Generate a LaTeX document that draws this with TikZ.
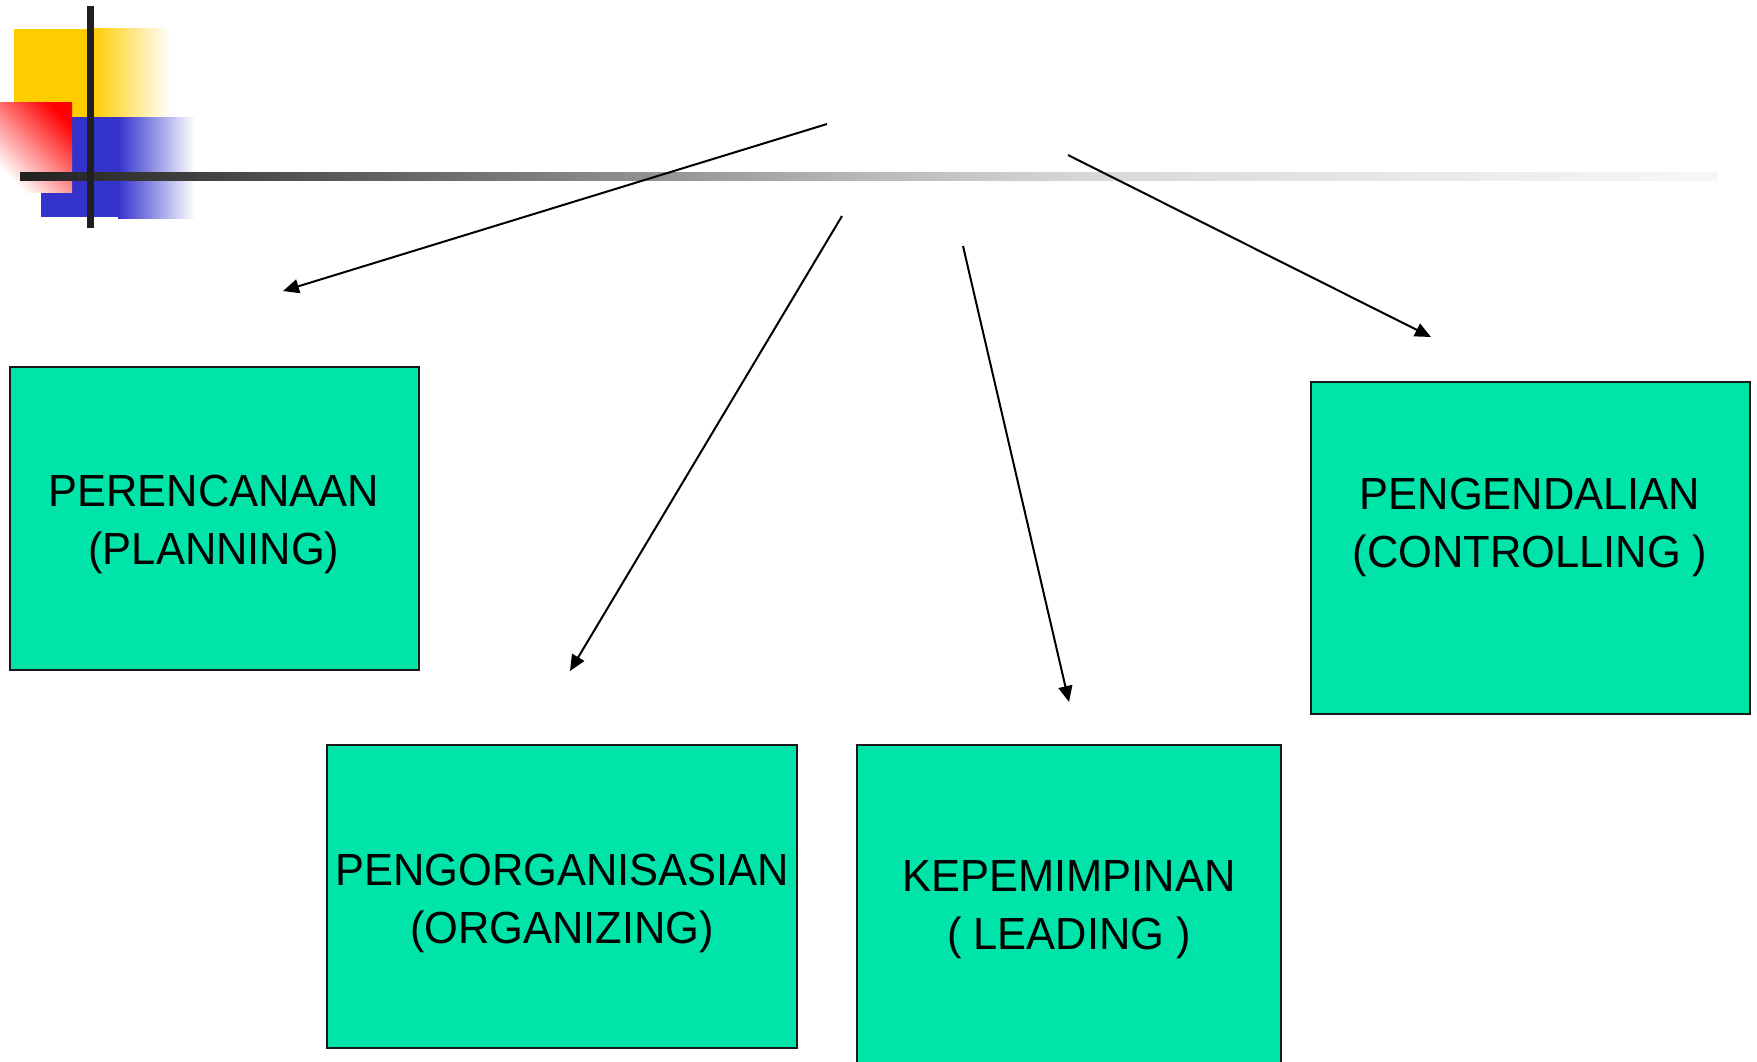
\documentclass[tikz,border=0pt]{standalone}
\usepackage{fontspec}
\setmainfont{Liberation Sans}[FakeStretch=0.965]
\usetikzlibrary{arrows.meta}
\definecolor{boxfill}{HTML}{00E3A9}
\definecolor{ylw}{HTML}{FFCC00}
\definecolor{blu}{HTML}{3333CC}
\definecolor{barc}{HTML}{1F1F1F}
\begin{document}
\begin{tikzpicture}[x=1pt,y=-1pt,
  box/.style={draw=black!90, line width=1.8pt, fill=boxfill, inner sep=0pt, outer sep=0pt},
  lbl/.style={align=center, font=\fontsize{45}{58}\selectfont, inner sep=0pt, text=black},
  conn/.style={line width=2pt, -{Triangle[length=16pt,width=14pt]}}]
\clip (0,0) rectangle (1757,1061);
\fill[white] (0,0) rectangle (1757,1061);
% decoration
\fill[ylw] (14,29) rectangle (92.5,117);
\shade[left color=ylw, right color=white] (92,28) rectangle (170,117);
\fill[blu] (41,117) rectangle (118.5,217);
\shade[left color=blu, right color=white] (118,117) rectangle (195,218);
\shade[shading=axis, top color=red, bottom color=white, shading angle=-45] (0,102) rectangle (72,192);
\shade[left color=black!87, right color=black!28] (20,172) rectangle (860.5,180);
\shade[left color=black!28, right color=black!15] (860,172) rectangle (1100.5,180);
\shade[left color=black!15, right color=black!3] (1100,172) rectangle (1718,180);
\fill[barc] (87,6) rectangle (94,228);
% boxes
\node[box, minimum width=409pt, minimum height=303pt] (b1) at (214.5,518.5) {};
\node[box, minimum width=470pt, minimum height=303pt] (b2) at (562,896.5) {};
\node[box, minimum width=424pt, minimum height=340pt] (b3) at (1069,915) {};
\node[box, minimum width=439pt, minimum height=332pt] (b4) at (1530.5,548) {};
% labels
\node[lbl] (t1) at (214,524) {PERENCANAAN\\(PLANNING)};
\node[lbl] (t2) at (562,903) {PENGORGANISASIAN\\(ORGANIZING)};
\node[lbl] (t3) at (1069,910) {KEPEMIMPINAN\\( LEADING )};
\node[lbl] (t4) at (1530,527) {PENGENDALIAN\\(CONTROLLING )};
% connectors
\coordinate (a1s) at (827,124); \coordinate (a1e) at (283,291);
\coordinate (a2s) at (842,216); \coordinate (a2e) at (570,671);
\coordinate (a3s) at (963,246); \coordinate (a3e) at (1069,702);
\coordinate (a4s) at (1068,155); \coordinate (a4e) at (1431,337);
\draw[conn] (a1s) -- (a1e);
\draw[conn] (a2s) -- (a2e);
\draw[conn] (a3s) -- (a3e);
\draw[conn] (a4s) -- (a4e);
\end{tikzpicture}
\end{document}
